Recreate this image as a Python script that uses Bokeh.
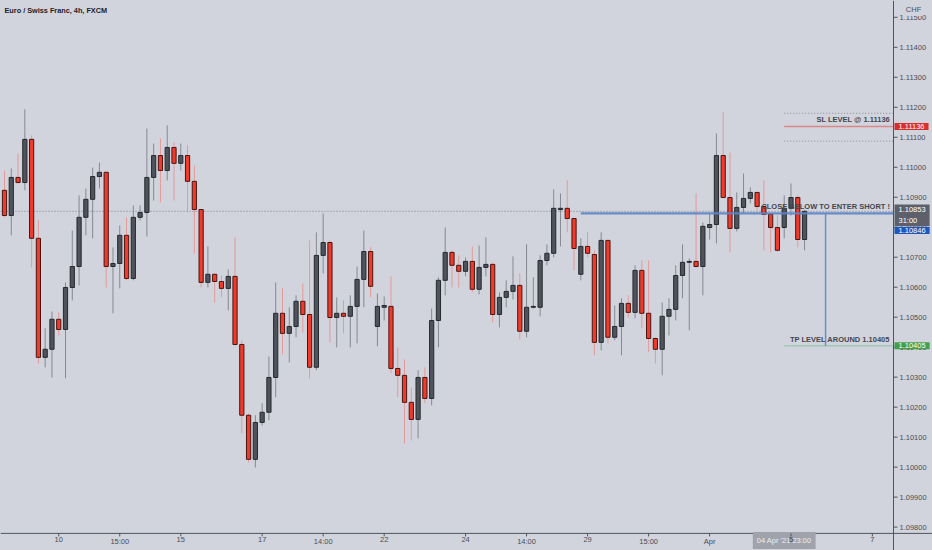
import math
from bokeh.plotting import figure
from bokeh.models import ColumnDataSource, Label, Range1d, GlobalInlineStyleSheet
from bokeh.core.properties import value
from bokeh.embed import file_html
from bokeh.resources import INLINE

TITLE = "Euro / Swiss Franc, 4h, FXCM"
CURRENCY = "CHF"

opens = [
    1.10923, 1.10839, 1.10966, 1.10949, 1.11093, 1.10763, 1.10366, 1.10393, 1.10493, 1.10459,
    1.10599, 1.10669, 1.10833, 1.10893, 1.10969, 1.10983, 1.10669, 1.10679, 1.10773, 1.10629,
    1.10833, 1.10849, 1.10966, 1.11039, 1.10989, 1.11066, 1.11013, 1.11039, 1.10953, 1.10859,
    1.10616, 1.10643, 1.10619, 1.10596, 1.10636, 1.10409, 1.10173, 1.10026, 1.10149, 1.10183,
    1.10299, 1.10513, 1.10446, 1.10469, 1.10553, 1.10509, 1.10333, 1.10706, 1.10749, 1.10499,
    1.10513, 1.10503, 1.10536, 1.10626, 1.10719, 1.10469, 1.10533, 1.10536, 1.10329, 1.10306,
    1.10216, 1.10159, 1.10299, 1.10229, 1.10489, 1.10623, 1.10716, 1.10673, 1.10653, 1.10686,
    1.10593, 1.10666, 1.10676, 1.10509, 1.10566, 1.10586, 1.10606, 1.10453, 1.10533, 1.10533,
    1.10689, 1.10713, 1.10859, 1.10863, 1.10829, 1.10643, 1.10736, 1.10709, 1.10416, 1.10756,
    1.10433, 1.10469, 1.10546, 1.10516, 1.10656, 1.10513, 1.10429, 1.10393, 1.10503, 1.10526,
    1.10639, 1.10683, 1.10686, 1.10669, 1.10799, 1.10809, 1.11039, 1.10899, 1.10796, 1.10866,
    1.10896, 1.10916, 1.10869, 1.10843, 1.10799, 1.10799, 1.10863, 1.10899, 1.10759,
]
highs = [
    1.10989, 1.10996, 1.11046, 1.11193, 1.11106, 1.10823, 1.10463, 1.10519, 1.10516, 1.10616,
    1.10789, 1.10906, 1.10929, 1.10999, 1.11016, 1.10986, 1.10733, 1.10806, 1.10833, 1.10873,
    1.10873, 1.11129, 1.11079, 1.11096, 1.11140, 1.11083, 1.11079, 1.11073, 1.11006, 1.10859,
    1.10736, 1.10646, 1.10639, 1.10659, 1.10766, 1.10423, 1.10179, 1.10173, 1.10213, 1.10369,
    1.10616, 1.10596, 1.10533, 1.10573, 1.10613, 1.10756, 1.10783, 1.10846, 1.10756, 1.10566,
    1.10556, 1.10573, 1.10669, 1.10789, 1.10733, 1.10579, 1.10569, 1.10636, 1.10399, 1.10359,
    1.10266, 1.10323, 1.10333, 1.10529, 1.10633, 1.10799, 1.10723, 1.10706, 1.10699, 1.10736,
    1.10739, 1.10766, 1.10683, 1.10583, 1.10623, 1.10703, 1.10646, 1.10743, 1.10633, 1.10706,
    1.10743, 1.10926, 1.10913, 1.10956, 1.10829, 1.10763, 1.10783, 1.10723, 1.10783, 1.10756,
    1.10539, 1.10563, 1.10573, 1.10673, 1.10689, 1.10689, 1.10433, 1.10549, 1.10563, 1.10673,
    1.10743, 1.10696, 1.10913, 1.10816, 1.10846, 1.11113, 1.11183, 1.11049, 1.10916, 1.10979,
    1.10933, 1.10916, 1.10956, 1.10846, 1.10839, 1.10906, 1.10946, 1.10906, 1.10856,
]
lows = [
    1.10833, 1.10773, 1.10946, 1.10923, 1.10666, 1.10346, 1.10333, 1.10299, 1.10439, 1.10296,
    1.10556, 1.10606, 1.10773, 1.10763, 1.10929, 1.10599, 1.10513, 1.10596, 1.10623, 1.10623,
    1.10823, 1.10769, 1.10889, 1.10883, 1.10956, 1.10889, 1.10989, 1.10849, 1.10713, 1.10599,
    1.10599, 1.10549, 1.10566, 1.10523, 1.10406, 1.10113, 1.10016, 1.09999, 1.10139, 1.10156,
    1.10233, 1.10376, 1.10349, 1.10433, 1.10449, 1.10296, 1.10323, 1.10646, 1.10416, 1.10399,
    1.10446, 1.10399, 1.10413, 1.10533, 1.10566, 1.10403, 1.10489, 1.10313, 1.10233, 1.10079,
    1.10089, 1.10096, 1.10213, 1.10206, 1.10399, 1.10573, 1.10599, 1.10599, 1.10636, 1.10583,
    1.10576, 1.10636, 1.10483, 1.10466, 1.10533, 1.10559, 1.10426, 1.10433, 1.10529, 1.10503,
    1.10673, 1.10699, 1.10736, 1.10783, 1.10656, 1.10623, 1.10699, 1.10373, 1.10389, 1.10413,
    1.10423, 1.10373, 1.10499, 1.10496, 1.10463, 1.10383, 1.10346, 1.10306, 1.10439, 1.10489,
    1.10563, 1.10456, 1.10666, 1.10573, 1.10759, 1.10746, 1.10899, 1.10716, 1.10786, 1.10846,
    1.10879, 1.10856, 1.10723, 1.10716, 1.10719, 1.10763, 1.10839, 1.10733, 1.10723,
]
closes = [
    1.10839, 1.10966, 1.10949, 1.11093, 1.10763, 1.10366, 1.10393, 1.10493, 1.10459, 1.10599,
    1.10669, 1.10833, 1.10893, 1.10969, 1.10983, 1.10669, 1.10679, 1.10773, 1.10629, 1.10833,
    1.10849, 1.10966, 1.11039, 1.10989, 1.11066, 1.11013, 1.11039, 1.10953, 1.10859, 1.10616,
    1.10643, 1.10619, 1.10596, 1.10636, 1.10409, 1.10173, 1.10026, 1.10149, 1.10183, 1.10299,
    1.10513, 1.10446, 1.10469, 1.10553, 1.10509, 1.10333, 1.10706, 1.10749, 1.10499, 1.10513,
    1.10503, 1.10536, 1.10626, 1.10719, 1.10603, 1.10536, 1.10539, 1.10329, 1.10306, 1.10216,
    1.10159, 1.10299, 1.10229, 1.10489, 1.10623, 1.10716, 1.10673, 1.10653, 1.10686, 1.10593,
    1.10666, 1.10676, 1.10509, 1.10566, 1.10586, 1.10606, 1.10453, 1.10533, 1.10536, 1.10689,
    1.10713, 1.10863, 1.10863, 1.10829, 1.10729, 1.10736, 1.10713, 1.10416, 1.10756, 1.10433,
    1.10469, 1.10546, 1.10516, 1.10656, 1.10513, 1.10429, 1.10393, 1.10503, 1.10526, 1.10639,
    1.10683, 1.10686, 1.10669, 1.10803, 1.10809, 1.11039, 1.10899, 1.10796, 1.10866, 1.10896,
    1.10916, 1.10869, 1.10843, 1.10799, 1.10723, 1.10863, 1.10899, 1.10759, 1.10853,
]

x_tick_positions = [8, 17, 26, 38, 47, 56, 68, 77, 86, 95, 104, 116, 128]
x_tick_labels = ["10", "15:00", "15", "17", "14:00", "22", "24", "14:00", "29", "15:00", "Apr", "5", "7"]
y_ticks = [1.098, 1.099, 1.100, 1.101, 1.102, 1.103, 1.104, 1.105, 1.106,
           1.107, 1.108, 1.109, 1.110, 1.111, 1.112, 1.113, 1.114, 1.115]
y_tick_labels = ["%.5f" % t for t in y_ticks]

SL_LEVEL = 1.11136
SL_BAND_UPPER = 1.11180
SL_BAND_LOWER = 1.11087
ENTRY_LEVEL = 1.10846
TP_LEVEL = 1.10405
LAST_PRICE = 1.10853
COUNTDOWN = "31:00"
CROSSHAIR_TEXT = "04 Apr '21 23:00"
CROSSHAIR_BAR = 115.0

SL_TEXT = "SL LEVEL @ 1.11136"
ENTRY_TEXT = "CLOSE BELOW TO ENTER SHORT !"
TP_TEXT = "TP LEVEL AROUND 1.10405"
LEVEL_START_BAR = 115
ENTRY_START_BAR = 85
TP_ARROW_BAR = 121.1
TEXT_END_BAR = 130.6

# view window (bar index / price) and price-scale position
X_START, X_END = -0.59, 136.87
Y_START, Y_END = 1.09722, 1.11556
AXIS_BAR = 131.12          # price scale sits right after this bar position
CHART_BOTTOM = 1.09779     # time scale sits below this price

BG = "#d1d4dc"
AXIS_COLOR = "#50535e"
TEXT_COLOR = "#4a4d57"
UP_FILL, UP_LINE, UP_WICK = "#4f535c", "#26292f", "#858991"
DN_FILL, DN_LINE, DN_WICK = "#ef3a2c", "#4a1510", "#e39a98"
FONT = "Liberation Sans"

idx = list(range(len(opens)))
up = [c >= o for o, c in zip(opens, closes)]
src = ColumnDataSource(dict(
    x=idx,
    o=opens, h=highs, l=lows, c=closes,
    top=[max(o, c) for o, c in zip(opens, closes)],
    bot=[min(o, c) for o, c in zip(opens, closes)],
    fill=[UP_FILL if u else DN_FILL for u in up],
    line=[UP_LINE if u else DN_LINE for u in up],
    wick=[UP_WICK if u else DN_WICK for u in up],
))

p = figure(width=932, height=550, x_range=Range1d(X_START, X_END), y_range=Range1d(Y_START, Y_END),
           x_axis_location=None, y_axis_location=None, output_backend="svg", toolbar_location=None,
           min_border=0, background_fill_color=BG, border_fill_color=BG, outline_line_color=None)
p.stylesheets = [GlobalInlineStyleSheet(css="body{background:#d1d4dc;}")]
p.grid.visible = False

# last price dotted line
p.segment(x0=[X_START], x1=[AXIS_BAR], y0=[LAST_PRICE], y1=[LAST_PRICE],
          line_color="#7b7e87", line_dash="1 2", line_width=1)

# candles
p.segment(x0="x", y0="l", x1="x", y1="h", line_color="wick", line_width=1, source=src)
p.vbar(x="x", width=0.62, top="top", bottom="bot", fill_color="fill", line_color="line",
       line_width=1, source=src)

# drawn levels
p.segment(x0=[LEVEL_START_BAR, LEVEL_START_BAR], x1=[AXIS_BAR, AXIS_BAR],
          y0=[SL_BAND_UPPER, SL_BAND_LOWER], y1=[SL_BAND_UPPER, SL_BAND_LOWER],
          line_color="#8a8d95", line_dash="1 2", line_width=1)
p.segment(x0=[LEVEL_START_BAR], x1=[AXIS_BAR], y0=[SL_LEVEL], y1=[SL_LEVEL],
          line_color="#d98787", line_width=1.5)
p.segment(x0=[LEVEL_START_BAR], x1=[AXIS_BAR], y0=[TP_LEVEL], y1=[TP_LEVEL],
          line_color="#9fc7b6", line_width=1.5)
p.segment(x0=[ENTRY_START_BAR], x1=[AXIS_BAR], y0=[ENTRY_LEVEL], y1=[ENTRY_LEVEL],
          line_color="#5b84c8", line_width=2.2, line_alpha=0.9)
p.segment(x0=[TP_ARROW_BAR], x1=[TP_ARROW_BAR], y0=[ENTRY_LEVEL], y1=[TP_LEVEL],
          line_color="#6a8fc8", line_width=1.5)

# price scale (right) and time scale (bottom)
p.segment(x0=[AXIS_BAR], x1=[AXIS_BAR], y0=[Y_START], y1=[Y_END], line_color=AXIS_COLOR, line_width=1)
p.segment(x0=[X_START], x1=[X_END], y0=[CHART_BOTTOM], y1=[CHART_BOTTOM], line_color=AXIS_COLOR, line_width=1)
p.ray(x=[AXIS_BAR] * len(y_ticks), y=y_ticks, length=4, length_units="screen", angle=0,
      line_color=AXIS_COLOR, line_width=1)
p.text(x=[AXIS_BAR] * len(y_ticks), y=y_ticks, text=y_tick_labels, x_offset=6,
       text_baseline="middle", text_align="left", text_font=value(FONT),
       text_font_size="7.5px", text_color=TEXT_COLOR)

# crosshair time box (under the time-scale labels)
p.text(x=[CROSSHAIR_BAR], y=[CHART_BOTTOM], text=[CROSSHAIR_TEXT], y_offset=7,
       text_align="center", text_baseline="middle", text_font=value(FONT), text_font_size="7.5px",
       text_color="#eceef1", background_fill_color="#a0a3ab", padding=4)

p.ray(x=x_tick_positions, y=[CHART_BOTTOM] * len(x_tick_positions), length=3, length_units="screen",
      angle=-math.pi / 2, line_color=AXIS_COLOR, line_width=1)
p.text(x=x_tick_positions, y=[CHART_BOTTOM] * len(x_tick_positions), text=x_tick_labels, y_offset=4,
       text_align="center", text_baseline="top", text_font=value(FONT), text_font_size="7.5px",
       text_color=TEXT_COLOR)

def level_text(txt, y):
    p.add_layout(Label(x=TEXT_END_BAR, y=y, text=txt, text_align="right", text_baseline="bottom",
                       y_offset=2, text_font=FONT, text_font_size="7.5px",
                       text_font_style="bold", text_color="#44474f"))

level_text(SL_TEXT, SL_LEVEL)
level_text(ENTRY_TEXT, ENTRY_LEVEL)
level_text(TP_TEXT, TP_LEVEL)

def price_box(txt, y, color, dy=0):
    p.add_layout(Label(x=AXIS_BAR, y=y, text=txt, x_offset=1, y_offset=dy, text_align="left",
                       text_baseline="middle", text_font=FONT, text_font_size="7.5px",
                       text_color="white", background_fill_color=color, padding=(4, 1)))

price_box("%.5f" % SL_LEVEL, SL_LEVEL, "#d7302c")
price_box("%.5f" % TP_LEVEL, TP_LEVEL, "#43a048")
price_box("%.5f" % ENTRY_LEVEL, ENTRY_LEVEL, "#1f56bd", dy=-17)
price_box("%.5f\n%s" % (LAST_PRICE, COUNTDOWN), LAST_PRICE, "#5d606b", dy=-4)

# title and currency
p.add_layout(Label(x=X_START, y=Y_END, x_offset=4, y_offset=-10, text=TITLE, text_baseline="middle",
                   text_font=FONT, text_font_size="7.3px", text_font_style="bold", text_color="#1f2229"))
p.add_layout(Label(x=AXIS_BAR, y=Y_END, x_offset=20, y_offset=-9, text=CURRENCY, text_align="center",
                   text_baseline="middle", text_font=FONT, text_font_size="7.5px", text_color=TEXT_COLOR,
                   background_fill_color=BG, padding=2))

open("out.html", "w").write(file_html(p, INLINE))
